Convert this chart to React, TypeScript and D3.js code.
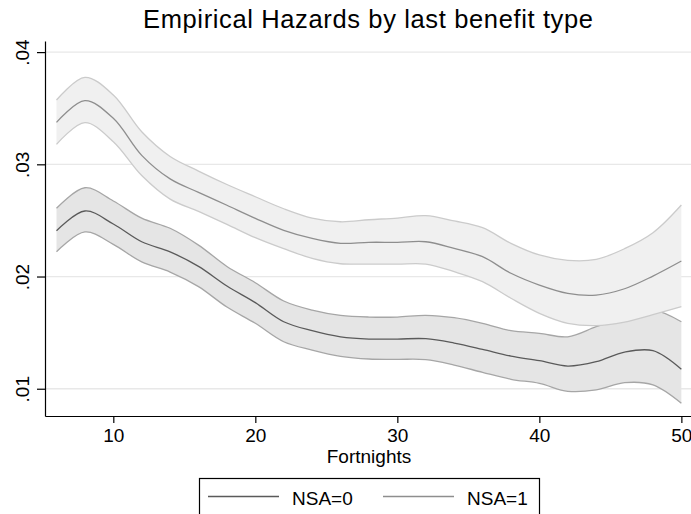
import { useEffect, useRef } from 'react';
import * as d3 from 'd3';

// fortnight grid the smoothed hazards are read at
const fortnights = [6, 8, 10, 12, 14, 16, 18, 20, 22, 24, 26, 28, 30, 32, 34, 36, 38, 40, 42, 44, 46, 48, 50];

// NSA=0 : smoothed hazard and its band
const nsa0Mean = [0.02408, 0.02584, 0.02468, 0.0231, 0.0222, 0.0209, 0.01915, 0.01767, 0.01597, 0.01517, 0.01463, 0.01443,
  0.01443, 0.01446, 0.01407, 0.01351, 0.01291, 0.0125, 0.01202, 0.01241, 0.01327, 0.01339, 0.01173];
const nsa0Lo = [0.02221, 0.02397, 0.02287, 0.0213, 0.0204, 0.0191, 0.01728, 0.01583, 0.01419, 0.01345, 0.01289, 0.01265,
  0.01262, 0.01259, 0.01211, 0.01146, 0.01084, 0.01048, 0.00977, 0.00989, 0.01054, 0.01034, 0.0087];
const nsa0Hi = [0.02608, 0.02791, 0.02673, 0.0252, 0.0243, 0.0228, 0.0209, 0.01945, 0.01782, 0.01701, 0.01654, 0.01639,
  0.01639, 0.01654, 0.01633, 0.01583, 0.01517, 0.01494, 0.01463, 0.01553, 0.01642, 0.01701, 0.01597];

// NSA=1
const nsa1Mean = [0.03374, 0.03567, 0.0341, 0.0308, 0.0287, 0.0275, 0.02635, 0.02519, 0.02412, 0.0234, 0.02296, 0.02305,
  0.02305, 0.0231, 0.02251, 0.02177, 0.02029, 0.01924, 0.0185, 0.01835, 0.01891, 0.02004, 0.02138];
const nsa1Lo = [0.03178, 0.03371, 0.03201, 0.029, 0.0269, 0.0258, 0.02465, 0.02346, 0.02248, 0.02162, 0.02114, 0.02111,
  0.02111, 0.02111, 0.02043, 0.01954, 0.01806, 0.01672, 0.01583, 0.01562, 0.01594, 0.0166, 0.01731];
const nsa1Hi = [0.03573, 0.03775, 0.03618, 0.0329, 0.0307, 0.0294, 0.0282, 0.02711, 0.02604, 0.02521, 0.02488, 0.02506,
  0.02521, 0.02542, 0.02495, 0.02435, 0.02296, 0.02192, 0.02144, 0.02153, 0.02248, 0.0239, 0.02637];

const xTicks = [10, 20, 30, 40, 50];
const yTicks = [0.01, 0.02, 0.03, 0.04];
const yTickLabels = ['.01', '.02', '.03', '.04'];
const seriesNames = ['NSA=0', 'NSA=1'];

const FONT = "'Liberation Sans', Arial, sans-serif";

export default function App() {
  const svgRef = useRef<SVGSVGElement>(null);

  useEffect(() => {
    if (!svgRef.current) return;
    const svg = d3.select(svgRef.current);
    svg.selectAll('*').remove();

    const W = 691, H = 514;
    const x = d3.scaleLinear().domain([5.19, 50.96]).range([45, 695]);
    const y = d3.scaleLinear().domain([0.00757, 0.04099]).range([416, 41]);

    svg.append('rect').attr('width', W).attr('height', H).attr('fill', '#fff');

    // title
    svg.append('text')
      .attr('x', 368).attr('y', 28)
      .attr('text-anchor', 'middle')
      .attr('font-family', FONT).attr('font-size', 25.5)
      .attr('textLength', 450).attr('lengthAdjust', 'spacing')
      .attr('fill', '#000')
      .text('Empirical Hazards by last benefit type');

    // horizontal grid
    svg.append('g').selectAll('line')
      .data(yTicks).enter().append('line')
      .attr('x1', 45).attr('x2', W)
      .attr('y1', d => y(d)).attr('y2', d => y(d))
      .attr('stroke', '#e8e8e8').attr('stroke-width', 1.3);

    const bands = [
      { lo: nsa0Lo, hi: nsa0Hi, mean: nsa0Mean, fill: '#e5e5e5', edge: '#a6a6a6', line: '#5a5a5a' },
      { lo: nsa1Lo, hi: nsa1Hi, mean: nsa1Mean, fill: '#f0f0f0', edge: '#cbcbcb', line: '#8e8e8e' },
    ];

    const curve = d3.curveCatmullRom;
    const idx = fortnights.map((_, i) => i);

    bands.forEach(b => {
      const area = d3.area<number>()
        .x(i => x(fortnights[i]))
        .y0(i => y(b.lo[i]))
        .y1(i => y(b.hi[i]))
        .curve(curve);
      const edge = (arr: number[]) => d3.line<number>()
        .x(i => x(fortnights[i]))
        .y(i => y(arr[i]))
        .curve(curve)(idx);

      svg.append('path').attr('d', area(idx)).attr('fill', b.fill);
      [b.lo, b.hi].forEach(arr => {
        svg.append('path').attr('d', edge(arr))
          .attr('fill', 'none').attr('stroke', b.edge).attr('stroke-width', 1.3);
      });
      svg.append('path').attr('d', edge(b.mean))
        .attr('fill', 'none').attr('stroke', b.line).attr('stroke-width', 1.3);
    });

    // y axis
    const yAxis = svg.append('g')
      .attr('transform', 'translate(45,0)')
      .call(d3.axisLeft(y).tickValues(yTicks).tickSize(8).tickSizeOuter(0)
        .tickFormat((_, i) => yTickLabels[i]));
    yAxis.selectAll('text')
      .attr('transform', 'rotate(-90)')
      .attr('x', 0).attr('y', -16.5).attr('dy', 0)
      .attr('text-anchor', 'middle')
      .attr('font-family', FONT).attr('font-size', 19).attr('fill', '#000');
    yAxis.selectAll('line, path').attr('stroke', '#000').attr('stroke-width', 1.2);

    // x axis
    const xAxis = svg.append('g')
      .attr('transform', 'translate(0,416)')
      .call(d3.axisBottom(x).tickValues(xTicks).tickSize(7).tickSizeOuter(0));
    xAxis.selectAll('text')
      .attr('y', 26).attr('dy', 0)
      .attr('font-family', FONT).attr('font-size', 19).attr('fill', '#000');
    xAxis.selectAll('line, path').attr('stroke', '#000').attr('stroke-width', 1.2);

    svg.append('text')
      .attr('x', 369).attr('y', 463)
      .attr('text-anchor', 'middle')
      .attr('font-family', FONT).attr('font-size', 19).attr('fill', '#000')
      .text('Fortnights');

    // legend
    svg.append('rect')
      .attr('x', 199.5).attr('y', 478.5).attr('width', 340).attr('height', 60)
      .attr('fill', '#fff').attr('stroke', '#000').attr('stroke-width', 1.2);
    const keyX = [208, 383];
    seriesNames.forEach((name, i) => {
      svg.append('line')
        .attr('x1', keyX[i]).attr('x2', keyX[i] + 71)
        .attr('y1', 496.5).attr('y2', 496.5)
        .attr('stroke', bands[i].line).attr('stroke-width', 1.3);
      svg.append('text')
        .attr('x', keyX[i] + 84).attr('y', 505)
        .attr('font-family', FONT).attr('font-size', 19).attr('fill', '#000')
        .text(name);
    });
  }, []);

  return (
    <svg ref={svgRef} width={691} height={514}
      style={{ position: 'absolute', left: 0, top: 0, display: 'block' }} />
  );
}
